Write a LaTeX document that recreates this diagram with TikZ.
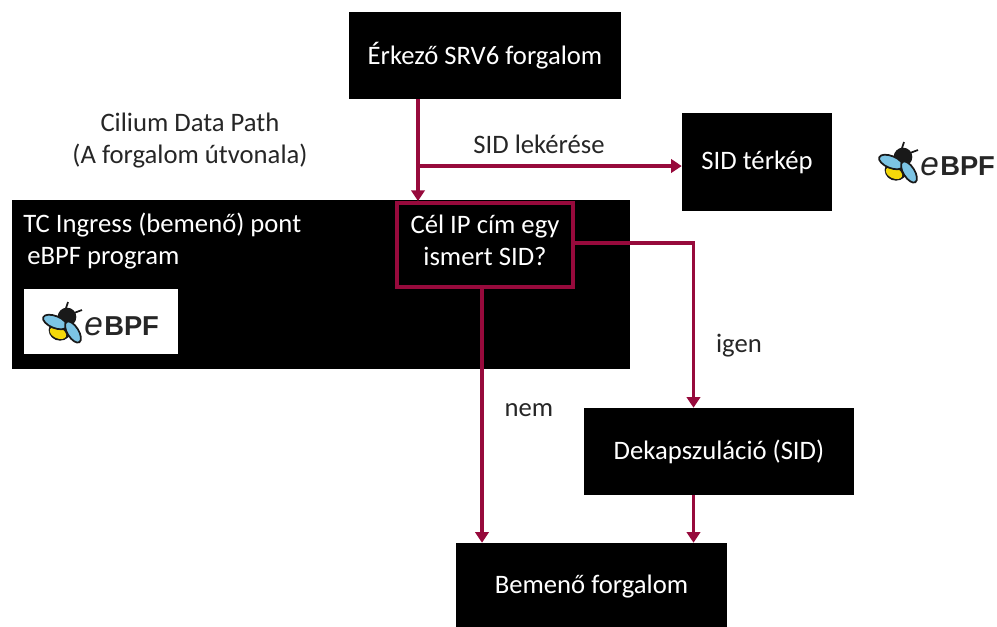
\documentclass[tikz,border=0pt]{standalone}
\usepackage{fontspec}
\setmainfont{Carlito}
\newfontfamily\logofont{Liberation Sans}
\usetikzlibrary{arrows.meta, positioning, calc}
\definecolor{figred}{HTML}{970A3C}
\definecolor{figwing}{HTML}{7CC4E4}
\definecolor{figyellow}{HTML}{F5D90A}
\tikzset{
  figbox/.style={fill=black, text=white, align=center, inner sep=0pt, font=\figfont},
  figlabel/.style={align=center, inner sep=0pt, font=\figfont, text=black!85},
  figarrow/.style={-{Triangle[length=8pt, width=10pt]}, line width=2.9pt, figred},
  figline/.style={draw=black!90, line width=1.3pt},
  pics/ebpflogo/.style={code={
    \draw[figline] (2,-8) -- (6,-20) (4,-6) -- (20,-12);
    \fill[black!90] (-2,8) ellipse [x radius=8.5pt, y radius=8pt];
    \fill[figyellow] (-4,11) ellipse [x radius=6.5pt, y radius=4pt, rotate=-25];
    \fill[black!90] (5,-5) circle [radius=7pt];
    \draw[figline, fill=figwing] (-7,0) ellipse [x radius=9.5pt, y radius=4.5pt, rotate=-22];
    \draw[figline, fill=figwing] (11,10) ellipse [x radius=9pt, y radius=4.2pt, rotate=-58];
    \node[anchor=base west, inner sep=0pt, font=\logofont\itshape\fontsize{25pt}{25pt}\selectfont, text=black!85] at (22,13) {e};
    \node[anchor=base west, inner sep=0pt, font=\logofont\bfseries\fontsize{20.5pt}{20.5pt}\selectfont, text=black!85] at (42,13) {BPF};
  }},
}
\newcommand{\figfont}{\fontsize{20pt}{24pt}\selectfont}

\begin{document}
\begin{tikzpicture}[x=0.75pt, y=-0.75pt]
  \useasboundingbox (0,0) rectangle (997,626);
  \node[figbox, minimum width=204pt, minimum height=65.25pt] (srv) at (485,55.5) {\raisebox{-0.7pt}{Érkező SRV6 forgalom}};
  \node[figbox, minimum width=112.5pt, minimum height=73.5pt] (map) at (757,162) {\raisebox{-2.5pt}{SID térkép}};
  \node[figbox, minimum width=463.5pt, minimum height=126.75pt] (tc) at (321,284.5) {};
  \node[figlabel, text=white] (sidtext) at (485,240) {Cél IP cím egy\\ismert SID?};
  \node[draw=figred, line width=2.9pt, minimum width=132pt, minimum height=63pt, inner sep=0pt] (sid) at (485,245) {};
  \node[figbox, minimum width=202.5pt, minimum height=65.25pt] (dek) at (719,451.5) {Dekapszuláció (SID)};
  \node[figbox, minimum width=203.25pt, minimum height=66pt] (ing) at (591.5,587) {Bemenő forgalom};
  \node[fill=white, minimum width=115.5pt, minimum height=48.75pt, inner sep=0pt] (logobox) at (101,321.5) {};

  \node[figlabel] (path) at (190,141) {Cilium Data Path\\(A forgalom útvonala)};
  \node[figlabel] (lookup) at (539,144) {SID lekérése};
  \node[figlabel, text=white, align=left, anchor=north west] (tctext) at (23,213) {TC Ingress (bemenő) pont\\\hspace*{3pt}eBPF program};
  \node[figlabel] (yes) at (739,346) {igen};
  \node[figlabel] (no) at (529,410) {nem};

  \pic at (62,322) {ebpflogo};
  \pic at (898,162) {ebpflogo};

  \coordinate (tap) at (418,166);
  \coordinate (yesx) at (693.5,243);
  \coordinate (nox) at (482,300);
  \draw[figarrow] (srv.south -| tap) -- (tap |- sid.north);
  \draw[figarrow] (tap) -- (map.west |- tap);
  \draw[figarrow] (sid.east |- yesx) -- (yesx) -- (yesx |- dek.north);
  \draw[figarrow] (nox |- sid.south) -- (nox |- ing.north);
  \draw[figarrow] (yesx |- dek.south) -- (yesx |- ing.north);
\end{tikzpicture}
\end{document}
